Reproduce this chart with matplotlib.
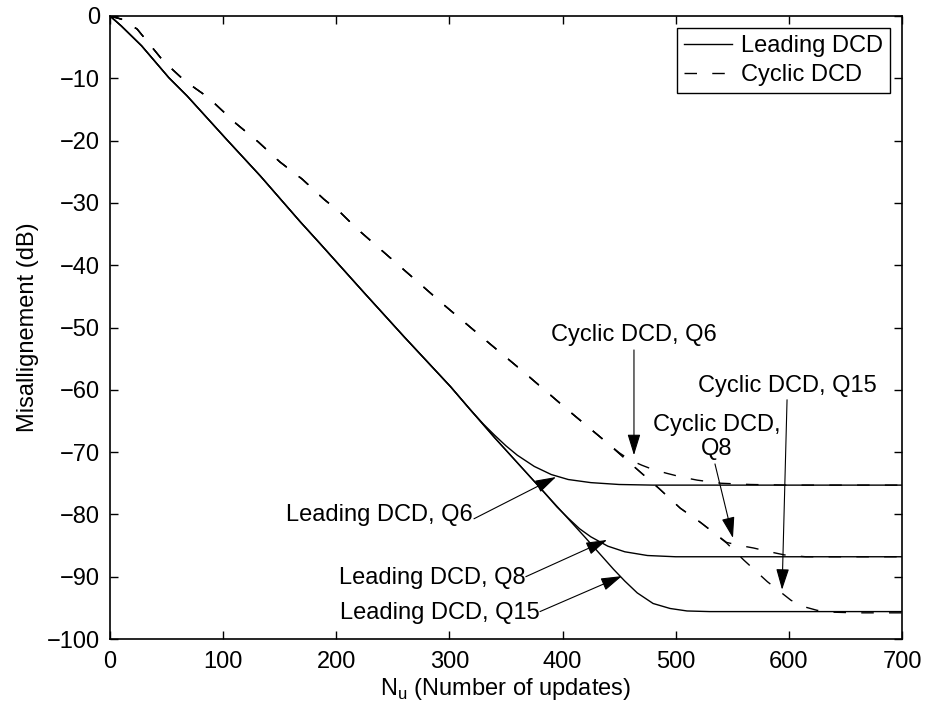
import matplotlib
matplotlib.use("Agg")
import matplotlib.pyplot as plt

plt.rcParams['font.family'] = ['Liberation Sans', 'DejaVu Sans']
plt.rcParams['axes.unicode_minus'] = True

# ---- data ----
lead_common_x = [0, 10, 28, 52, 68, 103, 133, 168, 186, 224, 260, 301, 318]
lead_common_y = [0, -1.6, -4.8, -9.9, -12.8, -19.8, -25.7, -33.0, -36.6, -44.3, -51.5, -59.5, -63.1]

lead_q6_x = [330, 340, 350, 360, 375, 390, 405, 425, 450, 480, 520, 700]
lead_q6_y = [-65.5, -67.3, -69.0, -70.5, -72.3, -73.6, -74.4, -74.9, -75.2, -75.3, -75.3, -75.3]

lead_q8_x = [340, 360, 380, 395, 405, 415, 425, 440, 455, 475, 500, 700]
lead_q8_y = [-67.7, -71.7, -75.7, -78.8, -80.6, -82.3, -83.6, -85.1, -86.0, -86.6, -86.8, -86.8]

lead_q15_x = [340, 360, 380, 400, 420, 445, 455, 466, 480, 495, 510, 530, 700]
lead_q15_y = [-67.7, -71.7, -75.7, -79.7, -83.7, -88.8, -90.7, -92.6, -94.3, -95.1, -95.5, -95.6, -95.6]

cyc_common_x = [0, 10, 24, 47, 66, 87, 111, 131, 150, 170, 189, 204, 218, 257, 296, 335, 364, 407, 440]
cyc_common_y = [0, -0.5, -2.1, -7.2, -10.4, -13.1, -17.2, -20.2, -23.4, -26.2, -29.4, -31.6, -34.1,
                -40.3, -46.5, -52.5, -56.9, -63.6, -68.6]

cyc_q6_x = [450, 460, 470, 480, 492, 505, 519, 540, 566, 600, 700]
cyc_q6_y = [-70.1, -71.3, -72.1, -72.8, -73.4, -74.0, -74.5, -75.0, -75.2, -75.3, -75.3]

cyc_q8_x = [463, 485, 504, 522, 545, 557, 569, 583, 596, 615, 640, 700]
cyc_q8_y = [-72.3, -75.8, -79.0, -81.3, -84.5, -85.0, -85.4, -86.0, -86.5, -86.8, -86.8, -86.8]

cyc_q15_x = [463, 485, 504, 522, 545, 560, 581, 602, 615, 625, 640, 660, 700]
cyc_q15_y = [-72.3, -75.8, -79.0, -81.3, -84.6, -87.3, -90.8, -93.8, -94.9, -95.4, -95.7, -95.8, -95.8]

legend_labels = ["Leading DCD", "Cyclic DCD"]
x_ticks = [0, 100, 200, 300, 400, 500, 600, 700]
y_ticks = [0, -10, -20, -30, -40, -50, -60, -70, -80, -90, -100]

# annotations: text, text pos, alignment, arrow tail, arrow head
annotations = [
    ("Cyclic DCD, Q6", (463.1, -51.2), 'center', (463.1, -53.6), (463.1, -70.5)),
    ("Cyclic DCD, Q15", (598.4, -59.4), 'center', (598.4, -61.6), (594.0, -92.1)),
    ("Cyclic DCD,\nQ8", (536.5, -67.6), 'center', (534.7, -71.9), (550.6, -83.8)),
    ("Leading DCD, Q6", (321.0, -80.1), 'right', (321.7, -80.7), (394.2, -74.0)),
    ("Leading DCD, Q8", (367.0, -90.2), 'right', (367.5, -90.0), (439.3, -84.1)),
    ("Leading DCD, Q15", (379.5, -95.8), 'right', (380.0, -95.6), (452.5, -89.9)),
]

# ---- figure ----
fig = plt.figure(figsize=(9.25, 7.11), dpi=100)
ax = fig.add_axes([110 / 925, 72 / 711, 792 / 925, 623 / 711])

FS = 17
dash = (0, (9, 11))

lead_handle = None
for tx, ty in [(lead_q6_x, lead_q6_y), (lead_q8_x, lead_q8_y), (lead_q15_x, lead_q15_y)]:
    ln, = ax.plot(lead_common_x + tx, lead_common_y + ty, color='black', lw=1.0, ls='-')
    lead_handle = lead_handle or ln

cyc_handle = None
for tx, ty in [(cyc_q6_x, cyc_q6_y), (cyc_q8_x, cyc_q8_y), (cyc_q15_x, cyc_q15_y)]:
    ln, = ax.plot(cyc_common_x + tx, cyc_common_y + ty, color='black', lw=1.0, ls=dash)
    cyc_handle = cyc_handle or ln

for text, tpos, ha, tail, head in annotations:
    ax.annotate('', xy=head, xytext=tail,
                arrowprops=dict(arrowstyle='-|>,head_length=1.3,head_width=0.4',
                                mutation_scale=10,
                                color='black', lw=0.8, shrinkA=0, shrinkB=0))
    ax.text(tpos[0], tpos[1], text, ha=ha, va='center', fontsize=FS,
            multialignment='center', linespacing=1.15)

ax.set_xlim(0, 700)
ax.set_ylim(-100, 0)
ax.set_xticks(x_ticks)
ax.set_yticks(y_ticks)
ax.tick_params(direction='in', length=6, width=1.0, top=True, right=True,
               labelsize=FS, pad=7)
ax.tick_params(axis='x', pad=9)
for sp in ax.spines.values():
    sp.set_linewidth(1.2)

ax.set_xlabel(r'N$_\mathregular{u}$ (Number of updates)', fontsize=FS, labelpad=2)
ax.set_ylabel('Misallignement (dB)', fontsize=FS, labelpad=6)

leg = ax.legend([lead_handle, cyc_handle], legend_labels, loc='upper right',
                bbox_to_anchor=(0.985, 0.981), fontsize=FS, frameon=True,
                fancybox=False, edgecolor='black', framealpha=1,
                handlelength=2.0, handletextpad=0.4, borderpad=0.3,
                labelspacing=0.3, borderaxespad=0)
leg.get_frame().set_linewidth(1.0)

fig.savefig('out.png', dpi=100)
